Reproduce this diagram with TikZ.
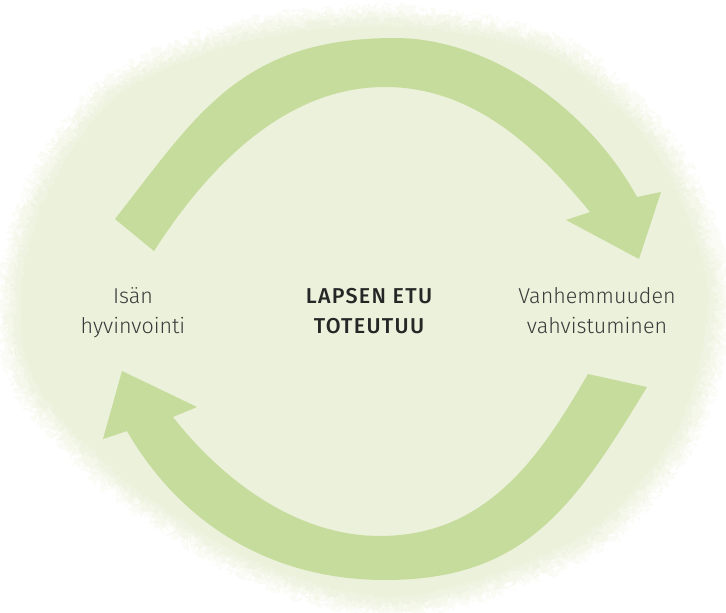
\documentclass[tikz,border=0pt]{standalone}
\usepackage{fontspec}
\setmainfont{Fira Sans}[UprightFont={Fira Sans Light},BoldFont={Fira Sans Medium}]
\usetikzlibrary{positioning,decorations.pathmorphing}
\definecolor{blobgreen}{HTML}{ECF1DB}
\definecolor{arrowgreen}{HTML}{C6DC9C}
\definecolor{textgrey}{HTML}{3A3A3A}
\def\fs{\fontsize{21.5}{30}\selectfont}

\begin{document}
\begin{tikzpicture}[x=1pt,y=-1pt,on grid,
    lbl/.style={align=center,text=textgrey,font=\fs},
    kaari/.style={fill=arrowgreen},
    pilvi/.style={fill=blobgreen,decorate,decoration={random steps,segment length=1pt,amplitude=#1}}]
  \useasboundingbox (0,0) rectangle (726,613);
  % tausta
  \pgfmathsetseed{7}
  \foreach \s/\o/\a in {1.02/0.3/6pt,1.0/0.4/5pt,0.98/0.6/4pt,0.96/1/2pt} {
    \path[pilvi=\a,opacity=\o,scale around={\s:(365,310)}]
      plot[smooth cycle] coordinates {(395,14) (560,46) (670,148) (722,290) (692,430) (600,540) (460,598) (370,608) (250,572) (120,492) (25,392) (6,300) (32,192) (108,86) (240,30)};
  }
  % ylempi nuoli
  \path[kaari] (115,219) .. controls (196,116) and (240,38) .. (395,38)
    .. controls (490,38) and (589,109) .. (637,197)
    -- (661,192) -- (639,259) -- (566,220) -- (590,212)
    .. controls (539,150) and (475,87) .. (385,87)
    .. controls (285,87) and (208,167) .. (154,251) -- cycle;
  % alempi nuoli
  \path[kaari] (647,387) .. controls (574,507) and (525,580) .. (385,580)
    .. controls (265,580) and (177,518) .. (127,431)
    -- (103,439) -- (122,371) -- (197,407) -- (173,417)
    .. controls (216,472) and (290,536) .. (380,536)
    .. controls (490,536) and (543,451) .. (588,374) -- cycle;
  % tekstit
  \node[lbl,font=\fs\bfseries\addfontfeatures{LetterSpace=6},text=black!85] (etu) at (369,312) {\strut LAPSEN ETU\\\strut TOTEUTUU};
  \node[lbl,left=236pt of etu] (isa) {\strut Isän\\\strut hyvinvointi};
  \node[lbl,right=228pt of etu] (vanh) {\strut Vanhemmuuden\\\strut vahvistuminen};
\end{tikzpicture}
\end{document}
